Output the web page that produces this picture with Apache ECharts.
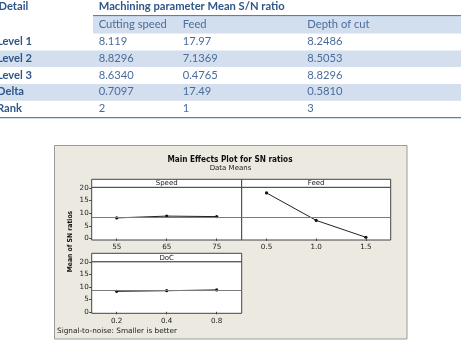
<!DOCTYPE html>
<html><head><meta charset="utf-8">
<script src="https://cdn.jsdelivr.net/npm/echarts@6/dist/echarts.min.js"></script>
<style>html,body{margin:0;padding:0;background:#fff;}#c{width:461px;height:346px;}</style>
</head><body><div id="c"></div>
<script>
// ---- table data ----
const tableHeader = ['Detail', 'Machining parameter Mean S/N ratio'];
const factorNames = ['Cutting speed', 'Feed', 'Depth of cut'];
const rowNames = ['Level 1', 'Level 2', 'Level 3', 'Delta', 'Rank'];
const speedCol = ['8.119', '8.8296', '8.6340', '0.7097', '2'];
const feedCol = ['17.97', '7.1369', '0.4765', '17.49', '1'];
const docCol = ['8.2486', '8.5053', '8.8296', '0.5810', '3'];

// ---- chart data ----
const chartTitle = 'Main Effects Plot for SN ratios';
const chartSubtitle = 'Data Means';
const panelTitles = ['Speed', 'Feed', 'DoC'];
const speedLevels = ['55', '65', '75'];
const feedLevels = ['0.5', '1.0', '1.5'];
const docLevels = ['0.2', '0.4', '0.8'];
const speedSN = [8.119, 8.8296, 8.6340];
const feedSN = [17.97, 7.1369, 0.4765];
const docSN = [8.2486, 8.5053, 8.8296];
const yTicks = [0, 5, 10, 15, 20];
const yAxisName = 'Mean of SN ratios';
const footerText = 'Signal-to-noise: Smaller is better';

const allSN = speedSN.concat(feedSN, docSN);
const grandMean = allSN.reduce((a, b) => a + b, 0) / allSN.length;

const chart = echarts.init(document.getElementById('c'), null, {renderer: 'canvas'});

const TXT = '#365F91';
const BAND = '#D3DFEE';
const RULE = '#4F81BD';
const TFONT = 'Lato, "Open Sans", sans-serif';
const TSIZE = 11.2;
const colX = [-3, 98.7, 182.7, 307.3];
const rowY = [6.7, 24.3, 41.7, 58.3, 75, 91.7, 108.3];

const g = [];
// table bands
g.push({type: 'rect', shape: {x: 93, y: 16.5, width: 368, height: 17}, style: {fill: BAND}, z: 1});
g.push({type: 'rect', shape: {x: 0, y: 50.5, width: 461, height: 16.5}, style: {fill: BAND}, z: 1});
g.push({type: 'rect', shape: {x: 0, y: 84, width: 461, height: 16.7}, style: {fill: BAND}, z: 1});
g.push({type: 'line', shape: {x1: 93, y1: 15.7, x2: 461, y2: 15.7}, style: {stroke: RULE, lineWidth: 1.3}, z: 2});
g.push({type: 'line', shape: {x1: 0, y1: 117.7, x2: 461, y2: 117.7}, style: {stroke: RULE, lineWidth: 1.3}, z: 2});
function ttext(t, x, y, bold) {
  g.push({type: 'text', x: x, y: y, z: 3, style: {text: t, fill: bold ? '#2f5689' : '#4a6d9b', font: (bold ? 'bold ' : '') + TSIZE + 'px ' + TFONT, textAlign: 'left', textVerticalAlign: 'middle'}});
}
ttext(tableHeader[0], colX[0] + 1.5, rowY[0], true);
ttext(tableHeader[1], colX[1], rowY[0], true);
factorNames.forEach((f, i) => ttext(f, colX[i + 1], rowY[1], false));
rowNames.forEach((r, i) => {
  ttext(r, colX[0], rowY[i + 2], true);
  ttext(speedCol[i], colX[1], rowY[i + 2], false);
  ttext(feedCol[i], colX[2], rowY[i + 2], false);
  ttext(docCol[i], colX[3], rowY[i + 2], false);
});

// Minitab frame
const MFONT = '"DejaVu Sans", Verdana, sans-serif';
g.push({type: 'rect', shape: {x: 54.5, y: 145.5, width: 352.5, height: 193.5}, style: {fill: '#ECE9E0', stroke: '#9a9a9a', lineWidth: 1}, z: -10});
g.push({type: 'text', x: 230, y: 160, z: 3, style: {text: chartTitle, fill: '#111', font: 'bold 8.2px "DejaVu Sans Condensed", "DejaVu Sans", sans-serif', textAlign: 'center', textVerticalAlign: 'middle'}});
g.push({type: 'text', x: 230.5, y: 168.5, z: 3, style: {text: chartSubtitle, fill: '#222', font: '7px ' + MFONT, textAlign: 'center', textVerticalAlign: 'middle'}});
g.push({type: 'text', x: 70, y: 241.5, rotation: Math.PI / 2, z: 3, style: {text: yAxisName, fill: '#111', font: 'bold 6.8px "DejaVu Sans Condensed", "DejaVu Sans", sans-serif', textAlign: 'center', textVerticalAlign: 'middle'}});
g.push({type: 'text', x: 57, y: 331, z: 3, style: {text: footerText, fill: '#222', font: '7.3px ' + MFONT, textAlign: 'left', textVerticalAlign: 'middle'}});

// panels
const panels = [
  {left: 91.7, top: 187.3, width: 150, height: 52.7, stripTop: 179.3},
  {left: 241.7, top: 187.3, width: 149, height: 52.7, stripTop: 179.3},
  {left: 91.7, top: 261.7, width: 150, height: 51.6, stripTop: 253.3}
];
panels.forEach((p, i) => {
  g.push({type: 'rect', shape: {x: p.left, y: p.stripTop, width: p.width, height: p.top - p.stripTop}, style: {fill: '#fff', stroke: '#444', lineWidth: 1}, z: 2});
  g.push({type: 'text', x: p.left + p.width / 2, y: (p.stripTop + p.top) / 2 + 0.3, z: 3, style: {text: panelTitles[i], fill: '#222', font: '7px ' + MFONT, textAlign: 'center', textVerticalAlign: 'middle'}});
});

const levelsArr = [speedLevels, feedLevels, docLevels];
const dataArr = [speedSN, feedSN, docSN];

const grids = panels.map(p => ({left: p.left, top: p.top, width: p.width, height: p.height, show: true, backgroundColor: '#fff', borderColor: '#444', borderWidth: 1, containLabel: false}));
const xAxes = levelsArr.map((lv, i) => ({
  type: 'category', gridIndex: i, data: lv, boundaryGap: true,
  axisLine: {show: false},
  axisTick: {show: true, alignWithLabel: true, length: 2.5, lineStyle: {color: '#444'}},
  axisLabel: {fontSize: 7.2, fontFamily: MFONT, color: '#222', margin: 4}
}));
const yAxes = [0, 1, 2].map(i => ({
  type: 'value', gridIndex: i, min: -0.6, max: 20.2,
  axisLine: {show: false},
  splitLine: {show: false},
  axisTick: {show: i !== 1, length: 2.5, customValues: yTicks, lineStyle: {color: '#444'}},
  axisLabel: {show: i !== 1, customValues: yTicks, fontSize: 7.2, fontFamily: MFONT, color: '#222', margin: 3}
}));
const series = dataArr.map((d, i) => ({
  type: 'line', xAxisIndex: i, yAxisIndex: i, data: d,
  symbol: 'circle', symbolSize: 3.2, showSymbol: true,
  lineStyle: {color: '#222', width: 1}, itemStyle: {color: '#111'},
  animation: false, silent: true,
  markLine: {silent: true, symbol: 'none', label: {show: false},
    lineStyle: {color: '#7a7a7a', width: 1, type: 'solid'},
    data: [{yAxis: grandMean}], animation: false}
}));

chart.setOption({
  animation: false,
  grid: grids, xAxis: xAxes, yAxis: yAxes, series: series,
  graphic: {elements: g}
});
</script></body></html>
